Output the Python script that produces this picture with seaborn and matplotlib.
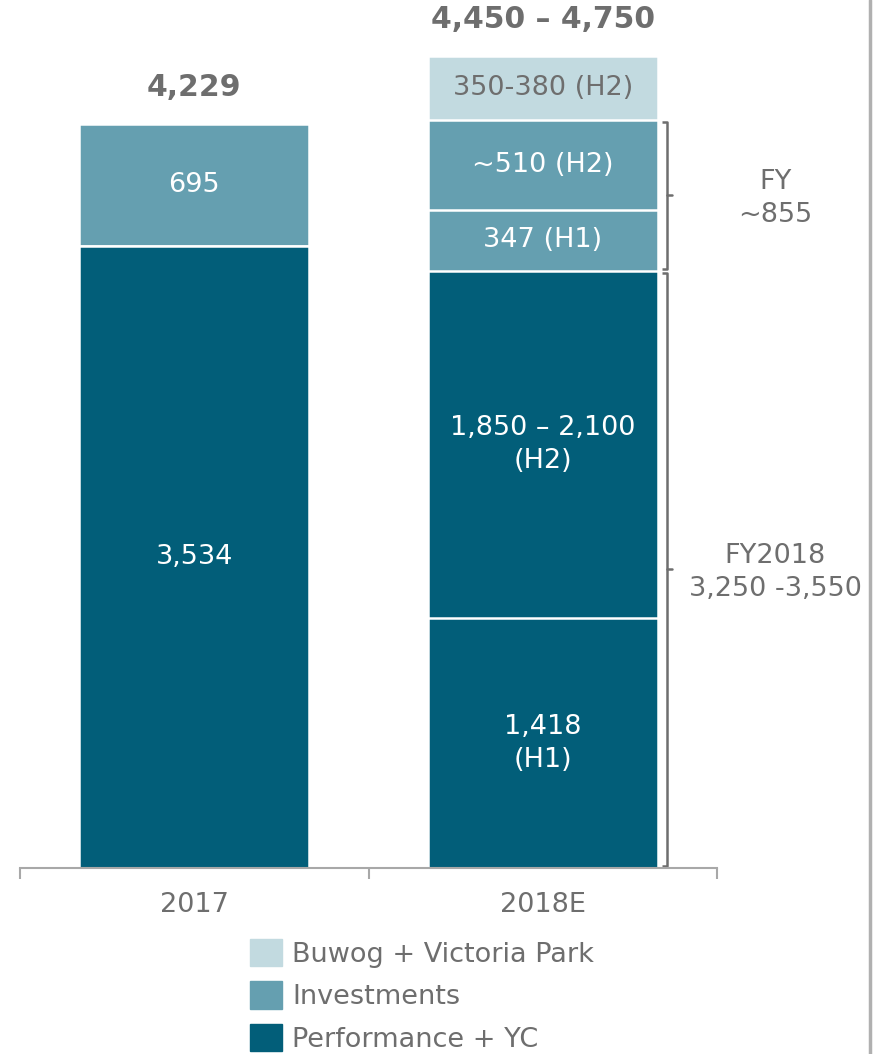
import pandas as pd
import numpy as np
import seaborn as sns
import matplotlib.pyplot as plt
from matplotlib.patches import Patch
from matplotlib.lines import Line2D

# Data (EUR m)
years = ['2017', '2018E']
perf_h1 = [3534, 1418]
perf_h2 = [0, 1975]      # 1,850 - 2,100 range, midpoint drawn
invest_h1 = [695, 347]
invest_h2 = [0, 510]
buwog = [0, 365]         # 350 - 380 range, midpoint drawn

totals_text = ['4,229', '4,450 \u2013 4,750']
seg_text = {
    'perf_h1': ['3,534', '1,418\n(H1)'],
    'perf_h2': ['', '1,850 \u2013 2,100\n(H2)'],
    'invest_h1': ['695', '347 (H1)'],
    'invest_h2': ['', '~510 (H2)'],
    'buwog': ['', '350-380 (H2)'],
}
bracket_text = ['FY\n~855', 'FY2018\n3,250 -3,550']

dark = '#025E79'
mid = '#659FB0'
light = '#C2DAE0'
grey = '#6E6E6E'
axis_grey = '#A8A8A8'

sns.set_style('white')
plt.rcParams['font.family'] = ['DejaVu Sans']

layers = [('perf_h1', perf_h1, dark), ('perf_h2', perf_h2, dark),
          ('invest_h1', invest_h1, mid), ('invest_h2', invest_h2, mid),
          ('buwog', buwog, light)]

df = pd.DataFrame({name: vals for name, vals, _ in layers}, index=years)
cum = df.cumsum(axis=1)

fig = plt.figure(figsize=(8.73, 10.54), dpi=100)
ax = fig.add_axes([20 / 873, 1 - 868 / 1054, 697 / 873, 868 / 1054])

# stacked bars: draw cumulative heights from the top layer down
for name, vals, color in reversed(layers):
    sns.barplot(x=years, y=cum[name].values, color=color, width=0.661,
                edgecolor='white', linewidth=1.8, saturation=1, ax=ax)

ax.set_xlim(-0.5, 1.5)
ax.set_ylim(0, 4932)

# segment labels
for name, vals, color in layers:
    for i, yr in enumerate(years):
        txt = seg_text[name][i]
        if not txt:
            continue
        top = cum[name].iloc[i]
        mid_y = top - df[name].iloc[i] / 2
        tc = grey if color == light else 'white'
        ax.text(i, mid_y, txt, ha='center', va='center', color=tc,
                fontsize=19.5, linespacing=1.35)

# totals on top
tops = cum.iloc[:, -1].values
for i, t in enumerate(tops):
    ax.annotate(totals_text[i], (i, t), xytext=(0, 26), textcoords='offset points',
                ha='center', va='center', fontsize=21.5, fontweight='bold', color=grey)

# brackets on the right of the 2018E bar
bx = 1.356
def bracket(y0, y1, label):
    ax.plot([bx - 0.014, bx, bx, bx - 0.014], [y0, y0, y1, y1], color=grey,
            lw=1.8, clip_on=False, solid_capstyle='butt')
    ym = (y0 + y1) / 2
    ax.plot([bx, bx + 0.014], [ym, ym], color=grey, lw=1.8, clip_on=False)
    ax.text(1.667, ym - 20, label, ha='center', va='center', color=grey,
            fontsize=19.5, linespacing=1.35)

bracket(cum['perf_h2'].iloc[1] + 12, cum['invest_h2'].iloc[1] - 12, bracket_text[0])
bracket(12, cum['perf_h2'].iloc[1] - 12, bracket_text[1])

# axis styling
sns.despine(ax=ax, left=True)
ax.spines['bottom'].set_color(axis_grey)
ax.spines['bottom'].set_linewidth(1.5)
ax.set_yticks([])
ax.set_xticks([0, 1])
ax.set_xticklabels(years)
ax.set_xticks([-0.5, 0.5, 1.5], minor=True)
ax.tick_params(axis='x', which='major', length=0, pad=17, labelsize=19.5, labelcolor=grey)
ax.tick_params(axis='x', which='minor', bottom=True, length=8, width=1.5,
               color=axis_grey, direction='out')
ax.set_xlabel('')

# legend
handles = [Patch(color=light, label='Buwog + Victoria Park'),
           Patch(color=mid, label='Investments'),
           Patch(color=dark, label='Performance + YC')]
fig.legend(handles=handles, loc='upper left', bbox_to_anchor=(250 / 873, 1 - 939 / 1054),
           frameon=False, fontsize=19.5, labelcolor=grey, handlelength=1.18,
           handleheight=1.18, handletextpad=0.37, labelspacing=0.5, borderpad=0,
           borderaxespad=0)

# thin frame line at the right edge
fig.add_artist(Line2D([870 / 873, 870 / 873], [0, 1], color='#B0B0B0', lw=2.5,
                      transform=fig.transFigure))

fig.savefig('out.png', dpi=100)
